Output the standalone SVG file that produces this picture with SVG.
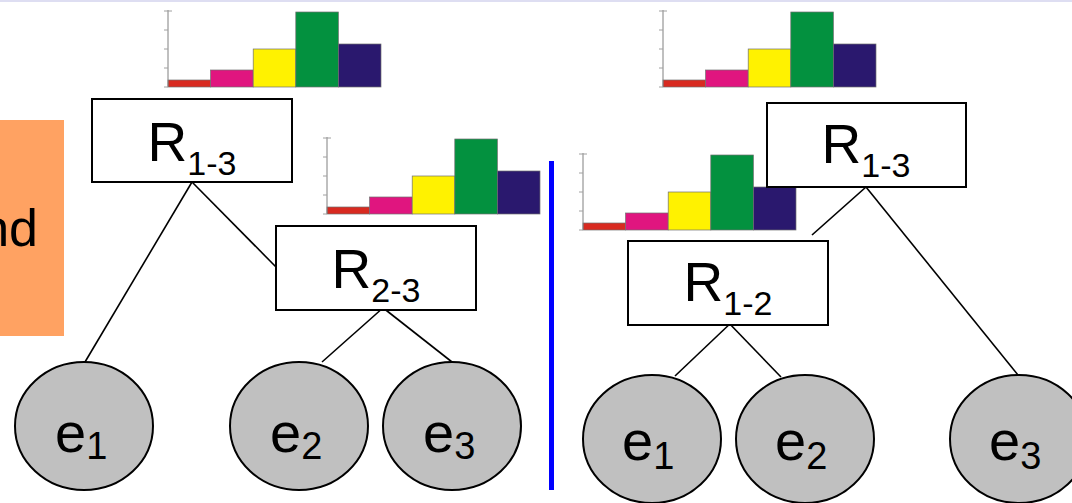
<svg xmlns="http://www.w3.org/2000/svg" width="1072" height="503" viewBox="0 0 1072 503">
  <defs>
    <style>
      .box { fill: #ffffff; stroke: #000000; stroke-width: 2; }
      .leaf { fill: #c0c0c0; stroke: #000000; stroke-width: 2; }
      .lbl { font-family: "Liberation Sans", Arial, sans-serif; fill: #000000; }
      .rlbl { font-size: 55px; }
      .elbl { font-size: 56px; }
      .sub { font-size: 34px; }
      .esub { font-size: 38px; }
      .edge { stroke: #000000; stroke-width: 1.6; fill: none; }
      .axis { stroke: #808080; stroke-width: 1; fill: none; }
      .tick { stroke: #a0a0a0; stroke-width: 1; }
      .bar { stroke: #707070; stroke-width: 0.7; }
    </style>
    <!-- histogram: origin at the foot of the axis -->
    <g id="histogram">
      <rect class="bar" x="0" y="-7" width="42.6" height="7" fill="#d82a20"/>
      <rect class="bar" x="42.6" y="-17" width="42.6" height="17" fill="#e0157f"/>
      <rect class="bar" x="85.2" y="-38" width="42.6" height="38" fill="#fff200"/>
      <rect class="bar" x="127.8" y="-75" width="42.6" height="75" fill="#03913f"/>
      <rect class="bar" x="170.4" y="-43" width="42.6" height="43" fill="#2a186e"/>
      <line class="axis" x1="0" y1="-77" x2="0" y2="0"/>
      <line class="tick" x1="-4" y1="-76" x2="4" y2="-76"/>
      <line class="tick" x1="-4" y1="-57" x2="0" y2="-57"/>
      <line class="tick" x1="-4" y1="-38" x2="0" y2="-38"/>
      <line class="tick" x1="-4" y1="-19" x2="0" y2="-19"/>
      <line class="tick" x1="-4" y1="0" x2="0" y2="0"/>
    </g>
  </defs>

  <rect width="1072" height="503" fill="#ffffff"/>
  <rect x="0" y="0" width="1072" height="2" fill="#dedef2"/>

  <!-- partially visible callout on the left -->
  <g id="callout">
    <rect x="0" y="120" width="64" height="216" fill="#ffa262"/>
    <text class="lbl" x="38" y="246" font-size="52" text-anchor="end">nd</text>
  </g>

  <!-- separator between the two trees -->
  <line id="divider" x1="551.5" y1="161" x2="551.5" y2="490" stroke="#0000ff" stroke-width="5"/>

  <!-- histograms -->
  <use id="hist-left-root" href="#histogram" x="168" y="87"/>
  <use id="hist-left-inner" href="#histogram" x="327" y="214"/>
  <use id="hist-right-inner" href="#histogram" x="583" y="230"/>
  <use id="hist-right-root" href="#histogram" x="663" y="87"/>

  <!-- connectors -->
  <g id="connectors">
    <line class="edge" x1="192" y1="182" x2="85" y2="362"/>
    <line class="edge" x1="192" y1="182" x2="277" y2="268"/>
    <line class="edge" x1="384" y1="307" x2="322" y2="362"/>
    <line class="edge" x1="382" y1="307" x2="452" y2="362"/>
    <line class="edge" x1="866" y1="187" x2="812" y2="235"/>
    <line class="edge" x1="866" y1="187" x2="1018" y2="375"/>
    <line class="edge" x1="675" y1="376" x2="734" y2="320"/>
    <line class="edge" x1="781" y1="377" x2="726" y2="320"/>
  </g>

  <!-- left tree -->
  <g id="left-R13">
    <rect class="box" x="92" y="99" width="200" height="83"/>
    <text class="lbl rlbl" x="192" y="161" text-anchor="middle">R<tspan class="sub" dy="14">1-3</tspan></text>
  </g>
  <g id="left-R23">
    <rect class="box" x="276" y="226" width="200" height="84"/>
    <text class="lbl rlbl" x="376" y="288" text-anchor="middle">R<tspan class="sub" dy="14">2-3</tspan></text>
  </g>
  <g id="left-e1">
    <ellipse class="leaf" cx="84" cy="426" rx="69" ry="64"/>
    <text class="lbl elbl" x="55" y="452">e<tspan class="esub" dy="7">1</tspan></text>
  </g>
  <g id="left-e2">
    <ellipse class="leaf" cx="299" cy="426" rx="69" ry="64"/>
    <text class="lbl elbl" x="270" y="452">e<tspan class="esub" dy="7">2</tspan></text>
  </g>
  <g id="left-e3">
    <ellipse class="leaf" cx="452" cy="426" rx="69" ry="64"/>
    <text class="lbl elbl" x="423" y="452">e<tspan class="esub" dy="7">3</tspan></text>
  </g>

  <!-- right tree -->
  <g id="right-R13">
    <rect class="box" x="767" y="103" width="199" height="84"/>
    <text class="lbl rlbl" x="866" y="163" text-anchor="middle">R<tspan class="sub" dy="14">1-3</tspan></text>
  </g>
  <g id="right-R12">
    <rect class="box" x="628" y="241" width="200" height="84"/>
    <text class="lbl rlbl" x="728" y="301" text-anchor="middle">R<tspan class="sub" dy="14">1-2</tspan></text>
  </g>
  <g id="right-e1">
    <ellipse class="leaf" cx="652" cy="439" rx="69" ry="64"/>
    <text class="lbl elbl" x="622" y="460">e<tspan class="esub" dy="9">1</tspan></text>
  </g>
  <g id="right-e2">
    <ellipse class="leaf" cx="805" cy="439" rx="69" ry="64"/>
    <text class="lbl elbl" x="775" y="460">e<tspan class="esub" dy="9">2</tspan></text>
  </g>
  <g id="right-e3">
    <ellipse class="leaf" cx="1019" cy="439" rx="69" ry="64"/>
    <text class="lbl elbl" x="989" y="460">e<tspan class="esub" dy="9">3</tspan></text>
  </g>
</svg>
